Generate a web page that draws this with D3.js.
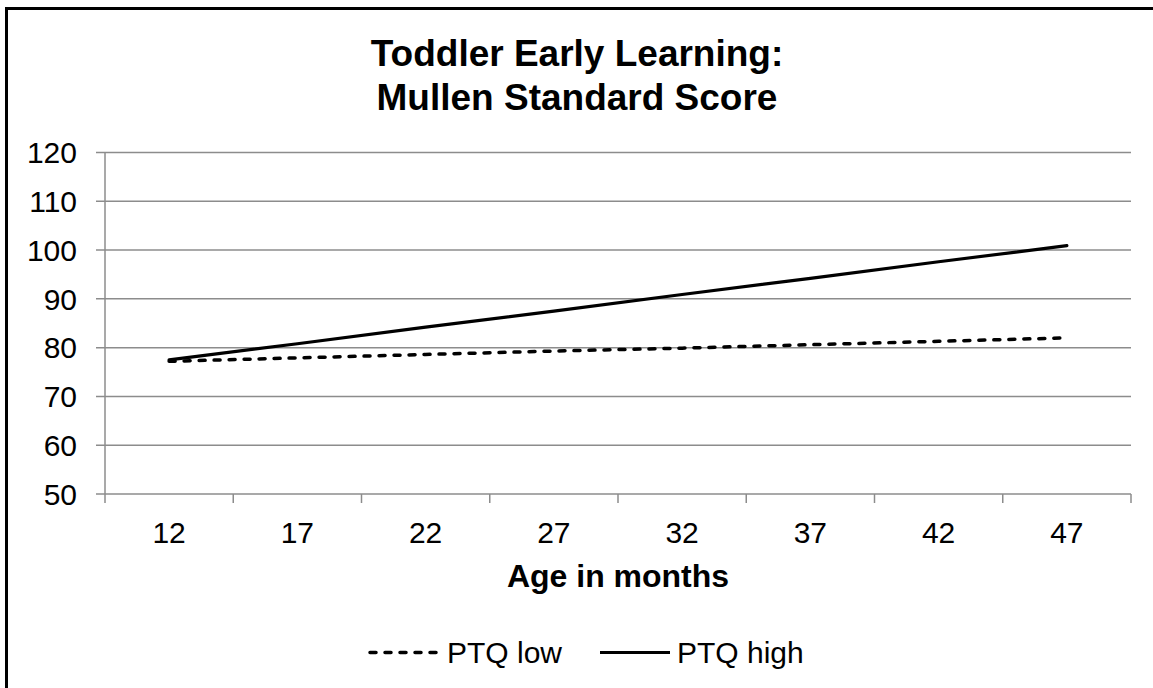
<!DOCTYPE html>
<html>
<head>
<meta charset="utf-8">
<script src="https://cdn.jsdelivr.net/npm/d3@7"></script>
<style>
  body { margin: 0; background: #fff; }
  text { font-family: "Liberation Sans", Arial, sans-serif; fill: #000; }
</style>
</head>
<body>
<script>
// chart values
let ages = [12, 17, 22, 27, 32, 37, 42, 47];
let ptqLow = [77.2, 77.9, 78.6, 79.3, 79.9, 80.6, 81.3, 82.0];
let ptqHigh = [77.5, 80.8, 84.2, 87.5, 90.9, 94.2, 97.6, 100.9];
let yTicks = [50, 60, 70, 80, 90, 100, 110, 120];
let seriesNames = ["PTQ low", "PTQ high"];

let svgWidth = 1153;
let svgHeight = 688;

// plot area
let plot = { left: 105, right: 1131, top: 152.5, bottom: 494 };

let svg = d3.select("body")
  .append("svg")
  .attr("width", svgWidth)
  .attr("height", svgHeight);

// outer frame (runs off the right and bottom edges)
svg.append("rect")
  .attr("x", 6.5)
  .attr("y", 8.5)
  .attr("width", svgWidth + 20)
  .attr("height", svgHeight + 20)
  .attr("fill", "none")
  .attr("stroke", "#000")
  .attr("stroke-width", 3);

let xScale = d3.scaleBand()
  .domain(ages)
  .range([plot.left, plot.right]);

let yScale = d3.scaleLinear()
  .domain([50, 120])
  .range([plot.bottom, plot.top]);

let gridColor = "#8c8c8c";

// horizontal gridlines + y ticks
svg.append("g")
  .selectAll("line")
  .data(yTicks)
  .enter()
  .append("line")
  .attr("x1", plot.left - 9)
  .attr("x2", plot.right)
  .attr("y1", d => yScale(d))
  .attr("y2", d => yScale(d))
  .attr("stroke", gridColor)
  .attr("stroke-width", 1.5);

// y axis line
svg.append("line")
  .attr("x1", plot.left).attr("x2", plot.left)
  .attr("y1", plot.top).attr("y2", plot.bottom)
  .attr("stroke", gridColor)
  .attr("stroke-width", 1.5);

// y labels
svg.append("g")
  .selectAll("text")
  .data(yTicks)
  .enter()
  .append("text")
  .attr("x", 77)
  .attr("y", d => yScale(d))
  .attr("dy", "0.36em")
  .attr("text-anchor", "end")
  .style("font-size", "30px")
  .text(d => d);

// x tick marks sit on the category boundaries
let bounds = ages.map(d => xScale(d)).concat([xScale.range()[1]]);
svg.append("g")
  .selectAll("line")
  .data(bounds)
  .enter()
  .append("line")
  .attr("x1", d => d)
  .attr("x2", d => d)
  .attr("y1", plot.bottom)
  .attr("y2", plot.bottom + 9)
  .attr("stroke", gridColor)
  .attr("stroke-width", 1.5);

// x labels
svg.append("g")
  .selectAll("text")
  .data(ages)
  .enter()
  .append("text")
  .attr("x", d => xScale(d) + xScale.bandwidth() / 2)
  .attr("y", 543)
  .attr("text-anchor", "middle")
  .style("font-size", "30px")
  .text(d => d);

// axis title
svg.append("text")
  .attr("x", (plot.left + plot.right) / 2)
  .attr("y", 587)
  .attr("text-anchor", "middle")
  .style("font-size", "32px")
  .style("font-weight", "bold")
  .text("Age in months");

// chart title
let titleLines = ["Toddler Early Learning:", "Mullen Standard Score"];
svg.append("g")
  .selectAll("text")
  .data(titleLines)
  .enter()
  .append("text")
  .attr("x", 577)
  .attr("y", (d, i) => 66 + i * 44)
  .attr("text-anchor", "middle")
  .style("font-size", "37px")
  .style("font-weight", "bold")
  .text(d => d);

// lines
let drawLine = d3.line()
  .x((d, i) => xScale(ages[i]) + xScale.bandwidth() / 2)
  .y(d => yScale(d));

let styles = [
  { dash: "6,9", cap: "round", width: 3.5 },
  { dash: null, cap: "round", width: 3.2 }
];

[ptqLow, ptqHigh].forEach((vals, k) => {
  svg.append("path")
    .attr("d", drawLine(vals))
    .attr("fill", "none")
    .attr("stroke", "#000")
    .attr("stroke-width", styles[k].width)
    .attr("stroke-linecap", styles[k].cap)
    .attr("stroke-dasharray", styles[k].dash);
});

// legend
let legendX = [370, 600];
seriesNames.forEach((name, k) => {
  svg.append("line")
    .attr("x1", legendX[k])
    .attr("x2", legendX[k] + 70)
    .attr("y1", 652.5)
    .attr("y2", 652.5)
    .attr("stroke", "#000")
    .attr("stroke-width", styles[k].width)
    .attr("stroke-linecap", k === 0 ? "round" : "butt")
    .attr("stroke-dasharray", styles[k].dash);
  svg.append("text")
    .attr("x", legendX[k] + 77)
    .attr("y", 663)
    .style("font-size", "30px")
    .text(name);
});
</script>
</body>
</html>
